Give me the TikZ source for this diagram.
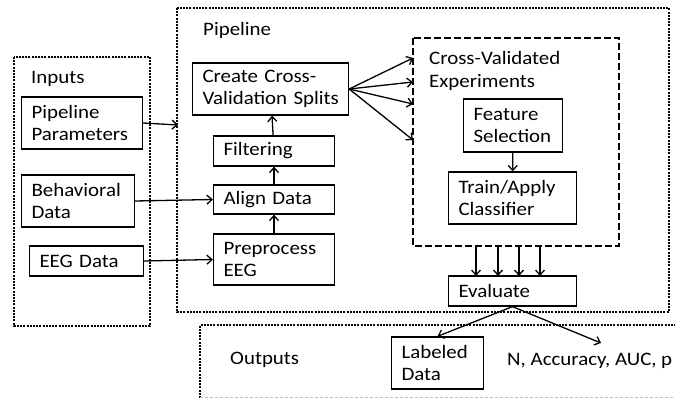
\documentclass[tikz,border=0pt]{standalone}
\usepackage{fontspec}
\setmainfont{Carlito}[FakeStretch=1.1]
\usetikzlibrary{arrows.meta}

\begin{document}
\begin{tikzpicture}[x=1pt,y=-1pt,
    every node/.style={font=\fontsize{19}{22.5}\selectfont},
    box/.style={draw,line width=1.3pt,align=left,inner xsep=10pt,inner ysep=0pt},
    lbl/.style={anchor=west,inner sep=0pt},
    dotbox/.style={line width=2.4pt,dash pattern=on 2pt off 1.2pt},
    dashbox/.style={line width=2.2pt,dash pattern=on 7pt off 3pt},
    arr/.style={-{Straight Barb[length=5pt,width=9pt]},line width=1.3pt}]
    \clip (0,0) rectangle (675,398);

    \draw[dotbox] (14,57) rectangle (150,326);
    \draw[dotbox] (177,8) rectangle (669,312);
    \draw[dotbox] (200,398) -- (200,325) -- (690,325);
    \draw[gray!50,line width=0.8pt,dash pattern=on 3pt off 2pt] (200,397) -- (675,397);
    \draw[dashbox] (413,38) rectangle (619,246);

    \node[lbl] (inlbl) at (31,79) {Inputs};
    \node[lbl] (pipelbl) at (203,30) {Pipeline};
    \node[lbl] (outlbl) at (230,360) {Outputs};
    \node[lbl,align=left] (cvlbl) at (429,71) {Cross-Validated\\Experiments};

    \node[box,text width=101pt,minimum height=52pt] (params) at (82,123) {Pipeline\\Parameters};
    \node[box,text width=93pt,minimum height=52pt] (behav) at (78,201) {Behavioral\\Data};
    \node[box,text width=94pt,minimum height=30pt] (eeg) at (86.5,261) {EEG Data};

    \node[box,text width=136pt,minimum height=52pt] (create) at (270.5,89) {Create Cross-\\\mbox{Validation Splits}};
    \node[box,text width=101pt,minimum height=30pt] (filter) at (274,151) {Filtering};
    \node[box,text width=101pt,minimum height=29pt] (align) at (274,199.5) {Align Data};
    \node[box,text width=101pt,minimum height=51pt] (prep) at (274,259.5) {Preprocess\\EEG};

    \node[box,text width=79pt,minimum height=53pt] (feat) at (513,125.5) {Feature\\Selection};
    \node[box,text width=108pt,minimum height=52pt] (train) at (512.5,198) {Train/Apply\\Classifier};
    \node[box,text width=108pt,minimum height=30pt] (eval) at (512.5,291) {Evaluate};

    \node[box,text width=72pt,minimum height=52pt] (labeled) at (437.5,363) {Labeled\\Data};
    \node[lbl] (metrics) at (507,361) {N, Accuracy, AUC, p};

    \coordinate (pipein) at (178,125);
    \coordinate (metin) at (601,343);
    \foreach \y [count=\i] in {58,82,104,140}
        \coordinate (fan\i) at (413,\y);
    \foreach \x [count=\i] in {476,498,519,540} {
        \coordinate (cvout\i) at (\x,246);
        \coordinate (evin\i) at (\x,276);
    }

    \draw[arr] (params.east) -- (pipein);
    \draw[arr] (behav.east) -- (align.west);
    \draw[arr] (eeg.east) -- (prep.west);
    \draw[arr] (prep) -- (align);
    \draw[arr] (align) -- (filter);
    \draw[arr] (filter) -- (create);
    \foreach \i in {1,...,4}
        \draw[arr] (create.east) -- (fan\i);
    \draw[arr] (feat) -- (train);
    \foreach \i in {1,...,4}
        \draw[arr] (cvout\i) -- (evin\i);
    \draw[arr] (eval.south) -- (labeled.north);
    \draw[arr] (eval.south) -- (metin);
\end{tikzpicture}
\end{document}
